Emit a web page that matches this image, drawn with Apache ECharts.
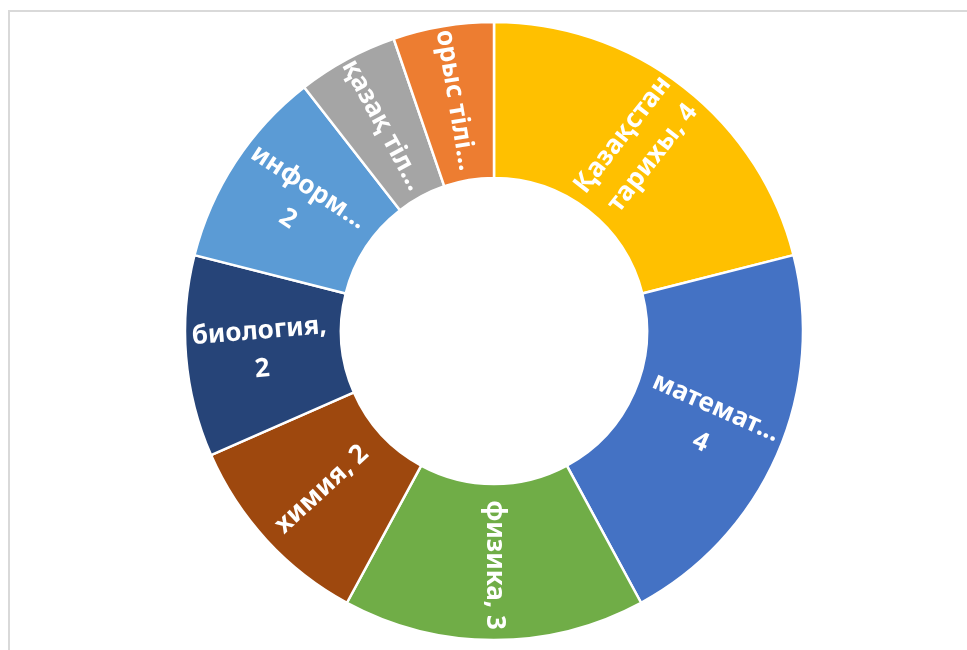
<!DOCTYPE html>
<html>
<head>
<meta charset="utf-8">
<script src="https://cdn.jsdelivr.net/npm/echarts@6/dist/echarts.min.js"></script>
<style>
html,body{margin:0;padding:0;background:#fff;}
#frame{position:absolute;left:8px;top:10px;width:959px;height:640px;border-left:2px solid #d9d9d9;border-top:2px solid #d9d9d9;box-sizing:border-box;}
#chart{position:absolute;left:0;top:0;width:967px;height:650px;}
</style>
</head>
<body>
<div id="frame"></div>
<div id="chart"></div>
<script>
const categories = ['Қазақстан тарихы','математика','физика','химия','биология','информатика','қазақ тілі','орыс тілі'];
const values = [4,4,3,2,2,2,1,1];
const labelTexts = ['Қазақстан\nтарихы, 4','математ...\n4','физика, 3','химия, 2','биология,\n2','информ...\n2','қазақ тіл...','орыс тілі...'];
const colors = ['#FFC000','#4472C4','#70AD47','#9E480E','#264478','#5B9BD5','#A5A5A5','#ED7D31'];

const chart = echarts.init(document.getElementById('chart'));
chart.setOption({
  animation:false,
  series:[{
    type:'pie',
    center:[494,331],
    radius:[153,309],
    startAngle:90,
    clockwise:true,
    avoidLabelOverlap:false,
    data:categories.map((c,i)=>({name:c,value:values[i],itemStyle:{color:colors[i]},label:{formatter:labelTexts[i]}})),
    itemStyle:{borderColor:'#fff',borderWidth:2.5},
    label:{show:true,position:'inside',rotate:'radial',color:'#fff',fontWeight:'bold',fontSize:26,fontFamily:'Noto Sans',lineHeight:38},
    labelLine:{show:false},
    emphasis:{disabled:true}
  }]
});
</script>
</body>
</html>
